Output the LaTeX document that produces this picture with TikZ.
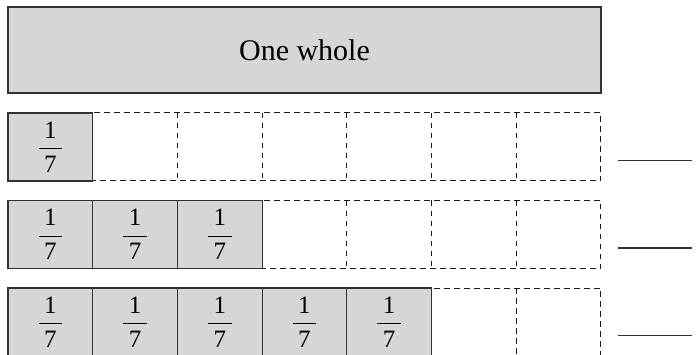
\documentclass[tikz,border=0pt]{standalone}
\usepackage{amsmath}
\usepackage{fontspec}
\setmainfont{Liberation Serif}
\usepackage{tikz}
\usetikzlibrary{positioning}
\definecolor{stripFill}{HTML}{D6D6D6}
\definecolor{stripInk}{HTML}{333333}
\newcommand{\seventh}{$\dfrac{\mkern4mu\text{1}\mkern4mu}{\text{7}}$}
\tikzset{
  wholebar/.style={
    rectangle,
    draw=stripInk,
    fill=stripFill,
    line width=1.6pt,
    minimum width=593pt,
    minimum height=86pt,
    outer sep=0pt,
    inner sep=0pt,
    font=\fontsize{30}{34}\selectfont
  },
  piece/.style={
    rectangle,
    draw=stripInk,
    fill=stripFill,
    line width=1.1pt,
    minimum width=84.71pt,
    minimum height=68pt,
    outer sep=0pt,
    inner sep=0pt,
    font=\fontsize{25}{29}\selectfont
  },
  blank/.style={
    rectangle,
    minimum width=84.71pt,
    minimum height=68pt,
    outer sep=0pt
  },
  blankline/.style={
    draw=black!90,
    dash pattern=on 5.5pt off 4.5pt,
    line width=1pt
  },
  answerline/.style={
    line width=1.4pt,
    draw=stripInk
  }
}

\begin{document}
\begin{tikzpicture}[x=1pt,y=-1pt,node distance=0pt]
  \useasboundingbox (0,0) rectangle (700,355);
  \node[wholebar] (whole) at (304.5,50) {One whole};
  % one strip per row: row / shaded sevenths / height
  \foreach \r/\n/\y in {1/1/147,2/3/234.5,3/5/322} {
    \node[blank] (b\r-1) at (50.36,\y) {};
    \foreach \c [remember=\c as \p (initially 1)] in {2,...,7}
      \node[blank,right=of b\r-\p] (b\r-\c) {};
    \draw[blankline] (b\r-1.north west) rectangle (b\r-7.south east);
    \foreach \c in {2,...,7}
      \draw[blankline] (b\r-\c.north west) -- (b\r-\c.south west);
    \foreach \c in {1,...,\n}
      \node[piece] (p\r-\c) at (b\r-\c) {\seventh};
    \coordinate (a\r) at ([xshift=17pt,yshift=-13.5pt]b\r-7.east);
    \coordinate (e\r) at ([xshift=91pt,yshift=-13.5pt]b\r-7.east);
    \draw[answerline] (a\r) -- (e\r);
  }
\end{tikzpicture}
\end{document}
